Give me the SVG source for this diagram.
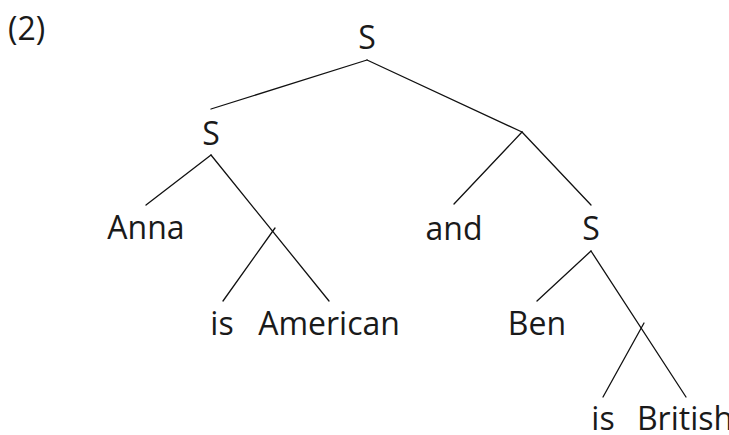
<svg xmlns="http://www.w3.org/2000/svg" width="729" height="435" viewBox="0 0 729 435">
  <style>
    text { font-family: "Open Sans", "Noto Sans", sans-serif; font-size: 32px; fill: #1a1a1a; text-anchor: middle; }
    .num { text-anchor: start; }
    .edge { stroke: #111; stroke-width: 1.3; fill: none; stroke-linecap: round; }
  </style>
  <rect width="729" height="435" fill="#fff"/>
  <text class="num" x="8" y="40">(2)</text>

  <g id="connectors">
    <line class="edge" x1="367" y1="60" x2="211" y2="109"/>
    <line class="edge" x1="367" y1="60" x2="522" y2="132"/>
    <line class="edge" x1="211" y1="155" x2="146" y2="205"/>
    <line class="edge" x1="211" y1="155" x2="329" y2="301"/>
    <line class="edge" x1="275" y1="228" x2="223" y2="301"/>
    <line class="edge" x1="522" y1="132" x2="454" y2="204"/>
    <line class="edge" x1="522" y1="132" x2="591" y2="205"/>
    <line class="edge" x1="591" y1="251" x2="537" y2="301"/>
    <line class="edge" x1="591" y1="251" x2="686" y2="397"/>
    <line class="edge" x1="644" y1="323" x2="603" y2="397"/>
  </g>

  <g id="s-root"><text x="367" y="49">S</text></g>
  <g id="s-left"><text x="211" y="145">S</text></g>
  <g id="anna"><text x="146" y="239">Anna</text></g>
  <g id="is-1"><text x="222" y="335">is</text></g>
  <g id="american"><text x="329" y="335">American</text></g>
  <g id="and"><text x="454" y="240">and</text></g>
  <g id="s-right"><text x="591" y="240">S</text></g>
  <g id="ben"><text x="537" y="335">Ben</text></g>
  <g id="is-2"><text x="603" y="430">is</text></g>
  <g id="british"><text x="685" y="430">British</text></g>
</svg>
